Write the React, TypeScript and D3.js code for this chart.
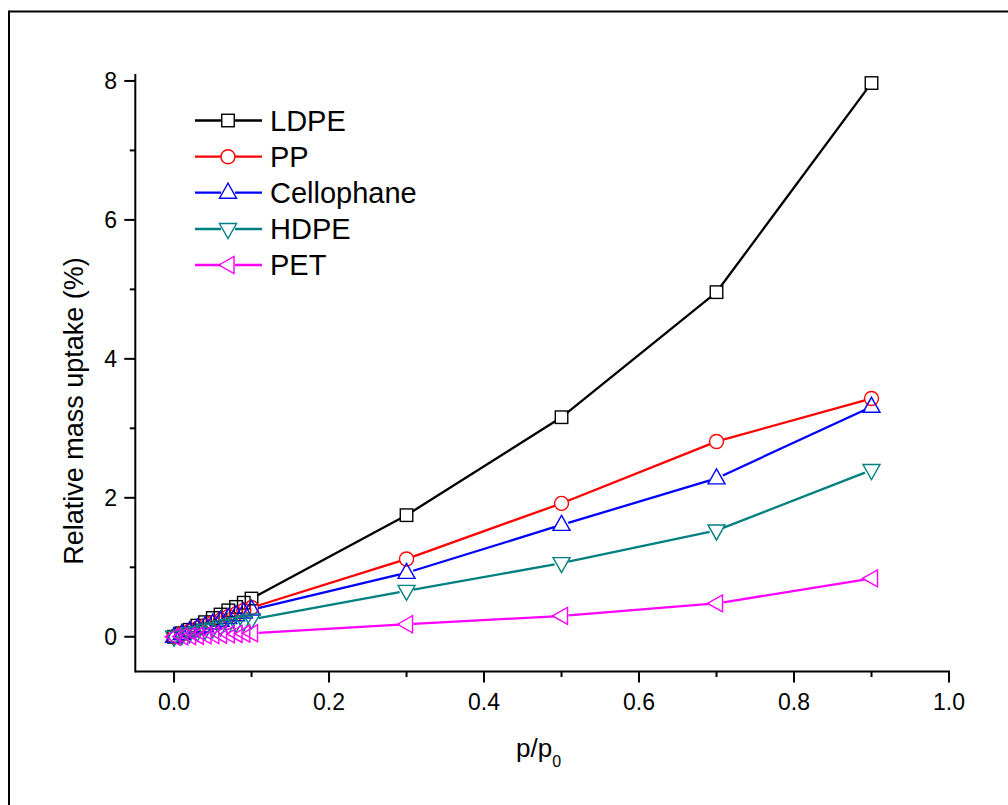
import React from "react";
import * as d3 from "d3";

const xs = [0, 0.01, 0.02, 0.03, 0.04, 0.05, 0.06, 0.07, 0.08, 0.09, 0.1, 0.3, 0.5, 0.7, 0.9];
const ldpe = [0, 0.05, 0.1, 0.16, 0.21, 0.27, 0.32, 0.38, 0.43, 0.49, 0.55, 1.75, 3.16, 4.96, 7.97];
const pp = [0, 0.04, 0.08, 0.12, 0.16, 0.2, 0.24, 0.29, 0.33, 0.38, 0.42, 1.12, 1.92, 2.81, 3.43];
const cellophane = [0, 0.04, 0.08, 0.12, 0.15, 0.19, 0.23, 0.27, 0.31, 0.35, 0.39, 0.92, 1.61, 2.28, 3.31];
const hdpe = [0, 0.02, 0.05, 0.07, 0.1, 0.12, 0.15, 0.17, 0.2, 0.22, 0.25, 0.66, 1.06, 1.53, 2.4];
const pet = [0, 0.005, 0.01, 0.015, 0.02, 0.025, 0.03, 0.035, 0.04, 0.045, 0.05, 0.18, 0.3, 0.48, 0.84];

const seriesNames = ["LDPE", "PP", "Cellophane", "HDPE", "PET"];
const seriesColors = ["#000000", "#FF0000", "#0000FF", "#008080", "#FF00FF"];
const seriesShapes = ["square", "circle", "up", "down", "left"];
const seriesValues = [ldpe, pp, cellophane, hdpe, pet];

const xTicksMajor = [0, 0.2, 0.4, 0.6, 0.8, 1.0];
const xTicksMinor = [0.1, 0.3, 0.5, 0.7, 0.9];
const yTicksMajor = [0, 2, 4, 6, 8];
const yTicksMinor = [1, 3, 5, 7];

const FONT = "'Liberation Sans', Arial, Helvetica, sans-serif";

function Marker({ shape, color, x, y }: { shape: string; color: string; x: number; y: number }) {
  const common = { fill: "none", stroke: color, strokeWidth: 1.4 };
  if (shape === "square") return <rect x={x - 6.25} y={y - 6.25} width={12.5} height={12.5} {...common} />;
  if (shape === "circle") return <circle cx={x} cy={y} r={7} {...common} />;
  let pts: number[][] = [];
  if (shape === "up") pts = [[0, -9.5], [8.5, 5.5], [-8.5, 5.5]];
  if (shape === "down") pts = [[-8.5, -5.5], [8.5, -5.5], [0, 9.5]];
  if (shape === "left") pts = [[-9, 0], [6, -8.5], [6, 8.5]];
  return <polygon points={pts.map((p) => `${x + p[0]},${y + p[1]}`).join(" ")} {...common} />;
}

function gappedSegments(points: [number, number][], gap: number) {
  const segs: string[] = [];
  for (let i = 0; i < points.length - 1; i++) {
    const [x1, y1] = points[i];
    const [x2, y2] = points[i + 1];
    const d = Math.hypot(x2 - x1, y2 - y1);
    if (d <= 2 * gap) continue;
    const ux = (x2 - x1) / d;
    const uy = (y2 - y1) / d;
    segs.push(`M${x1 + ux * gap},${y1 + uy * gap}L${x2 - ux * gap},${y2 - uy * gap}`);
  }
  return segs.join("");
}

export default function App() {
  const x = d3.scaleLinear().domain([-0.05, 1.0]).range([135.3, 949]);
  const y = d3.scaleLinear().domain([-0.5, 8.1]).range([671.5, 74]);
  const x0 = x(-0.05);
  const y0 = y(-0.5);
  const legendY = [120.5, 156.7, 192.7, 229, 265];

  return (
    <svg width={1008} height={805} style={{ position: "absolute", left: 0, top: 0, background: "#fff" }}>
      <rect x={0} y={0} width={1008} height={805} fill="#fff" />
      {/* frame */}
      <line x1={9} y1={11.5} x2={1008} y2={11.5} stroke="#000" strokeWidth={2} />
      <line x1={9} y1={10.5} x2={9} y2={805} stroke="#000" strokeWidth={2} />

      {/* axes */}
      <line x1={x0} y1={y0} x2={x(1.0) + 1} y2={y0} stroke="#000" strokeWidth={2} />
      <line x1={x0} y1={y0 + 1} x2={x0} y2={y(8.1)} stroke="#000" strokeWidth={2} />
      {xTicksMajor.map((t) => (
        <g key={"xm" + t}>
          <line x1={x(t)} x2={x(t)} y1={y0} y2={y0 + 11} stroke="#000" strokeWidth={2} />
          <text x={x(t)} y={710} textAnchor="middle" fontFamily={FONT} fontSize={23}>
            {d3.format(".1f")(t)}
          </text>
        </g>
      ))}
      {xTicksMinor.map((t) => (
        <line key={"xn" + t} x1={x(t)} x2={x(t)} y1={y0} y2={y0 + 5.5} stroke="#000" strokeWidth={2} />
      ))}
      {yTicksMajor.map((t) => (
        <g key={"ym" + t}>
          <line x1={x0 - 11} x2={x0} y1={y(t)} y2={y(t)} stroke="#000" strokeWidth={2} />
          <text x={117} y={y(t)} dy="0.36em" textAnchor="end" fontFamily={FONT} fontSize={23}>
            {t}
          </text>
        </g>
      ))}
      {yTicksMinor.map((t) => (
        <line key={"yn" + t} x1={x0 - 5.5} x2={x0} y1={y(t)} y2={y(t)} stroke="#000" strokeWidth={2} />
      ))}

      {/* axis titles */}
      <text
        transform={`translate(83, 411) rotate(-90)`}
        textAnchor="middle"
        fontFamily={FONT}
        fontSize={27}
      >
        Relative mass uptake (%)
      </text>
      <text x={516} y={757} fontFamily={FONT} fontSize={26}>
        p/p
        <tspan fontSize={16} dy={10}>0</tspan>
      </text>

      {/* series */}
      {seriesValues.map((vals, si) => {
        const pts: [number, number][] = vals.map((v, i) => [x(xs[i]), y(v)]);
        return (
          <g key={seriesNames[si]}>
            <path d={gappedSegments(pts, 7)} stroke={seriesColors[si]} strokeWidth={2.3} fill="none" />
            {pts.map((p, i) => (
              <Marker key={i} shape={seriesShapes[si]} color={seriesColors[si]} x={p[0]} y={p[1]} />
            ))}
          </g>
        );
      })}

      {/* legend */}
      {seriesNames.map((name, si) => (
        <g key={"lg" + name}>
          <path
            d={`M195,${legendY[si]}H221M235,${legendY[si]}H262`}
            stroke={seriesColors[si]}
            strokeWidth={2.3}
          />
          <Marker shape={seriesShapes[si]} color={seriesColors[si]} x={228} y={legendY[si]} />
          <text x={270} y={legendY[si]} dy="0.36em" fontFamily={FONT} fontSize={29}>
            {name}
          </text>
        </g>
      ))}
    </svg>
  );
}
